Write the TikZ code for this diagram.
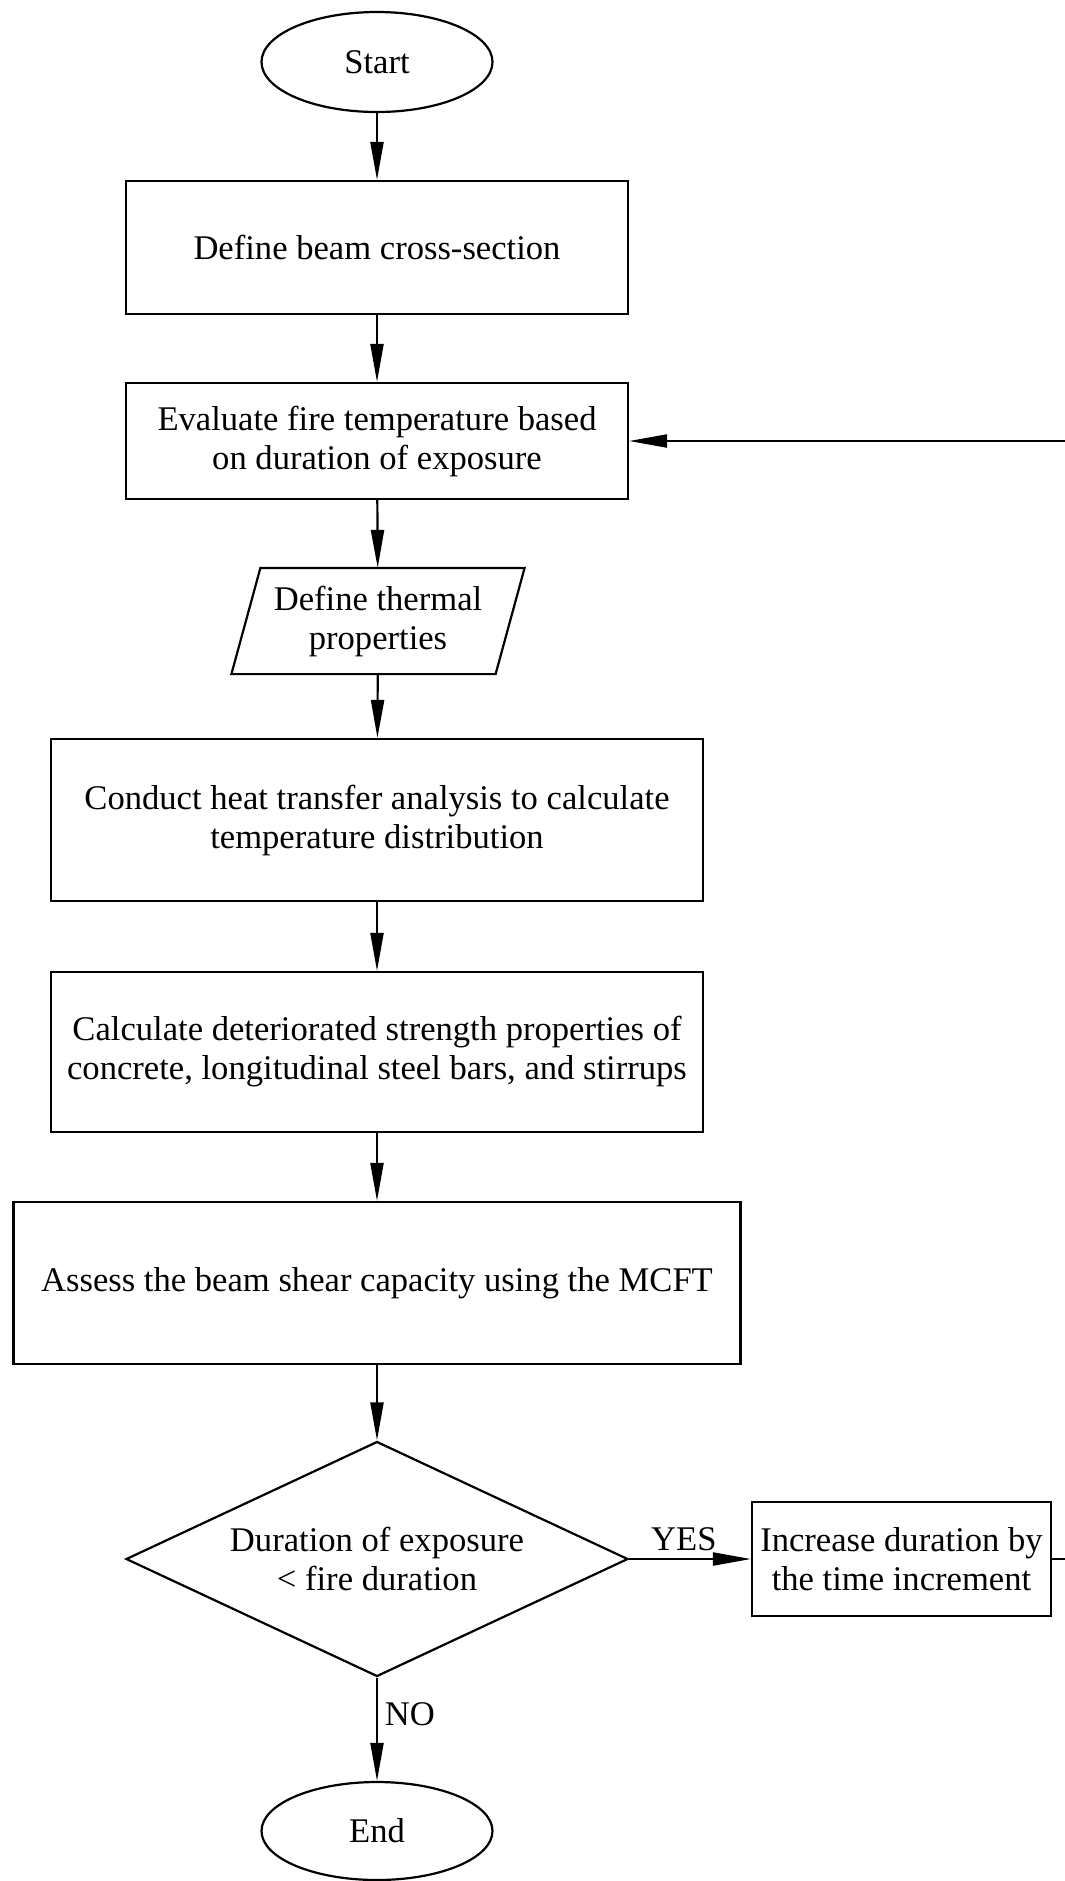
\documentclass[tikz,border=0pt]{standalone}
\usepackage{fontspec}
\setmainfont{Liberation Serif}
\usetikzlibrary{shapes.geometric,arrows.meta}

\begin{document}
\begin{tikzpicture}[x=.5pt, y=-.5pt, line width=1.1pt,
	font=\fontsize{17.3}{19.5}\selectfont,
	box/.style={draw, rectangle, inner sep=0, align=center},
	term/.style={draw, ellipse, inner sep=0, minimum width=115.5pt, minimum height=50pt},
	inout/.style={rectangle, inner sep=0, align=center, minimum width=131pt, minimum height=52pt},
	decide/.style={draw, diamond, inner sep=0, aspect=2.14, align=center, minimum width=251pt, minimum height=117.5pt},
	flow/.style={-{Triangle[length=19pt,width=6.5pt]}}]

\useasboundingbox (0,0) rectangle (1065,1881);

\node[term] (start) at (377,62) {Start};
\node[box, minimum width=251pt, minimum height=66.5pt] (section) at (377,247.5) {Define beam cross-section};
\node[box, minimum width=251pt, minimum height=58pt] (firetemp) at (377,441) {Evaluate fire temperature based\\ on duration of exposure};
\node[inout] (thermal) at (378,621) {Define thermal\\ properties};
\draw ([xshift=7.25pt]thermal.north west) -- ([xshift=7.25pt]thermal.north east) --
([xshift=-7.25pt]thermal.south east) -- ([xshift=-7.25pt]thermal.south west) -- cycle;
\node[box, minimum width=326pt, minimum height=81pt] (heat) at (377,820) {Conduct heat transfer analysis to calculate\\ temperature distribution};
\node[box, minimum width=326pt, minimum height=80pt] (strength) at (377,1052) {Calculate deteriorated strength properties of\\ concrete, longitudinal steel bars, and stirrups};
\node[box, minimum width=363.5pt, minimum height=81pt] (shear) at (377,1283) {Assess the beam shear capacity using the MCFT};
\node[decide] (check) at (377,1559) {Duration of exposure\\ < fire duration};
\node[box, minimum width=149.5pt, minimum height=57pt] (increase) at (901.5,1559) {Increase duration by\\ the time increment};
\node[term, minimum height=49pt] (stop) at (377,1831) {End};
\coordinate (loop) at (1080,441);

\draw[flow] (start) -- (section);
\draw[flow] (section) -- (firetemp);
\draw[flow] (firetemp) -- (thermal);
\draw[flow] (thermal) -- (heat);
\draw[flow] (heat) -- (strength);
\draw[flow] (strength) -- (shear);
\draw[flow] (shear) -- (check);
\draw[flow] (check.east) -- node[above, pos=.45]{YES} (increase.west);
\draw[flow] (check.south) -- node[right, pos=.35]{NO} (stop.north);
\draw[flow] (increase.east) -| (loop) -- (firetemp.east);
\end{tikzpicture}
\end{document}
